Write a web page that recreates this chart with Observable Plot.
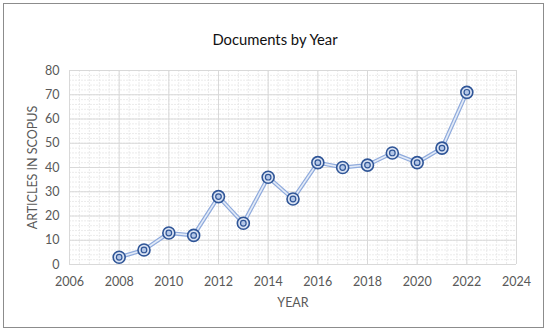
<!DOCTYPE html>
<html><head><meta charset="utf-8">
<script src="https://cdn.jsdelivr.net/npm/d3@7"></script>
<script src="https://cdn.jsdelivr.net/npm/@observablehq/plot@0.6"></script>
<style>
html,body{margin:0;padding:0;background:#fff;}
#wrap{position:relative;width:550px;height:333px;}
#frame{position:absolute;left:3px;top:3px;width:541px;height:325px;border:1.5px solid #8c8c8c;box-sizing:border-box;pointer-events:none;}
#title{position:absolute;left:0;top:30px;width:550px;text-align:center;font-family:Lato,"Open Sans",sans-serif;font-size:14.8px;color:#111;}
svg{position:absolute;left:0;top:0;}
</style></head>
<body><div id="wrap"><div id="title">Documents by Year</div><div id="frame"></div></div>
<script>
const years = [2008,2009,2010,2011,2012,2013,2014,2015,2016,2017,2018,2019,2020,2021,2022];
const articles = [3,6,13,12,28,17,36,27,42,40,41,46,42,48,71];
const xTicks = [2006,2008,2010,2012,2014,2016,2018,2020,2022,2024];
const yTicks = [0,10,20,30,40,50,60,70,80];
const data = years.map((y,i)=>({year:y, n:articles[i]}));
const xMinor = d3.range(2006, 2024.001, 0.4);
const yMinor = d3.range(0, 80.001, 2);
const font = 'Lato, "Open Sans", sans-serif';
const chart = Plot.plot({
  width: 550, height: 333,
  marginLeft: 69, marginRight: 34, marginTop: 70, marginBottom: 69,
  style: {fontFamily: font, fontSize: "12.5px", color: "#595959", background: "transparent"},
  x: {domain: [2006, 2024], ticks: xTicks, tickFormat: d => String(d), tickSize: 0, tickPadding: 12, label: null},
  y: {domain: [0, 80], ticks: yTicks, tickSize: 0, tickPadding: 10, label: null},
  marks: [
    Plot.ruleX(xMinor, {stroke: "#e6e6e6", strokeWidth: 0.8, strokeDasharray: "2,1"}),
    Plot.ruleY(yMinor, {stroke: "#e6e6e6", strokeWidth: 0.8, strokeDasharray: "2,1"}),
    Plot.ruleX(xTicks, {stroke: "#d9d9d9", strokeWidth: 1}),
    Plot.ruleY(yTicks, {stroke: "#d9d9d9", strokeWidth: 1}),
    Plot.axisX({ticks: xTicks, tickFormat: d => String(d), tickSize: 0, tickPadding: 13, label: null, fontSize: 12.5}),
    Plot.axisY({ticks: yTicks, tickSize: 0, tickPadding: 10, label: null, fontSize: 12.5}),
    Plot.line(data, {x: "year", y: "n", stroke: "#8faadc", strokeWidth: 4}),
    Plot.line(data, {x: "year", y: "n", stroke: "#e3ebf7", strokeWidth: 1.6}),
    Plot.dot(data, {x: "year", y: "n", r: 6, fill: "#dae3f3", stroke: "#2f5597", strokeWidth: 1.6}),
    Plot.dot(data, {x: "year", y: "n", r: 2.8, fill: "#b4c7e7", stroke: "#2f5597", strokeWidth: 1.2}),
    Plot.text(["YEAR"], {frameAnchor: "bottom", dy: 38, lineAnchor: "middle", text: d => d, fontSize: 12.5, fill: "#595959"}),
    Plot.text(["ARTICLES IN SCOPUS"], {frameAnchor: "left", dx: -37, rotate: -90, textAnchor: "middle", lineAnchor: "middle", text: d => d, fontSize: 12.5, fill: "#595959"})
  ]
});
document.getElementById("wrap").prepend(chart);
</script></body></html>
